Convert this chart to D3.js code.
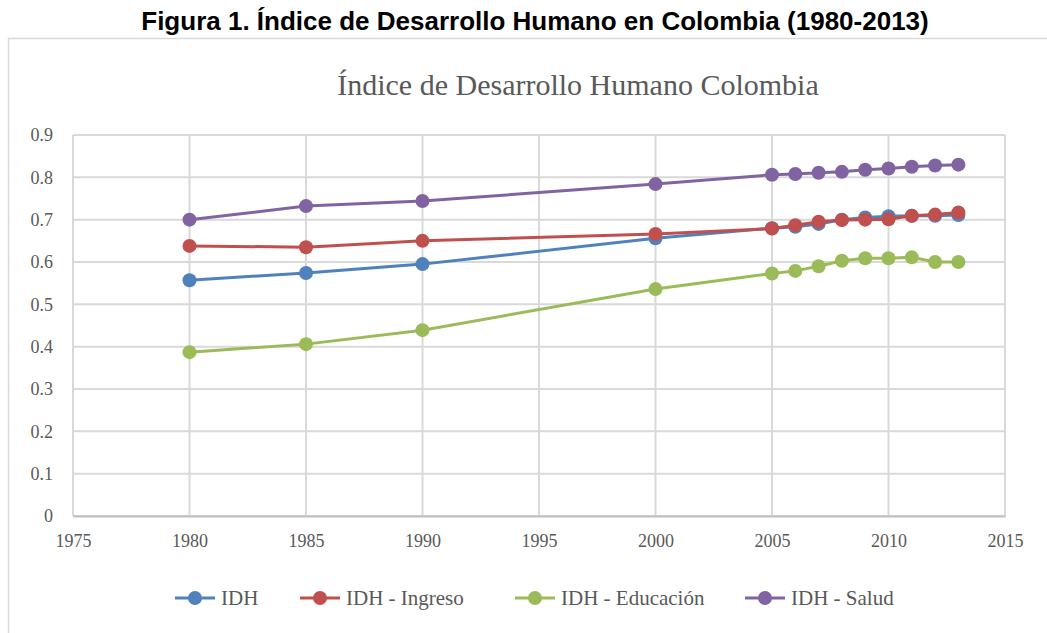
<!DOCTYPE html>
<html>
<head>
<meta charset="utf-8">
<script src="https://cdn.jsdelivr.net/npm/d3@7"></script>
<style>
  body { margin: 0; background: #fff; }
  svg text { font-family: 'Liberation Serif', serif; }
</style>
</head>
<body>
<div class="chart"></div>
<script>
// Data
const years = [1980, 1985, 1990, 2000, 2005, 2006, 2007, 2008, 2009, 2010, 2011, 2012, 2013];
const idh = [0.557, 0.574, 0.595, 0.656, 0.680, 0.683, 0.690, 0.700, 0.705, 0.708, 0.709, 0.709, 0.711];
const idhIngreso = [0.638, 0.635, 0.650, 0.666, 0.679, 0.687, 0.695, 0.699, 0.700, 0.701, 0.709, 0.712, 0.717];
const idhEducacion = [0.387, 0.406, 0.439, 0.536, 0.573, 0.579, 0.590, 0.603, 0.609, 0.609, 0.611, 0.600, 0.600];
const idhSalud = [0.700, 0.732, 0.744, 0.784, 0.806, 0.808, 0.811, 0.813, 0.818, 0.821, 0.825, 0.828, 0.830];
const seriesNames = ['IDH', 'IDH - Ingreso', 'IDH - Educación', 'IDH - Salud'];
const seriesColors = ['#4f81bd', '#c0504d', '#9bbb59', '#8064a2'];
const yTicks = [0, 0.1, 0.2, 0.3, 0.4, 0.5, 0.6, 0.7, 0.8, 0.9];
const xTicks = [1975, 1980, 1985, 1990, 1995, 2000, 2005, 2010, 2015];

const series = [idh, idhIngreso, idhEducacion, idhSalud];

const w = 1047;
const h = 633;

const svg = d3.select('.chart').append('svg').attr('width', w).attr('height', h);

// Figure caption
svg.append('text')
  .attr('x', 535)
  .attr('y', 30)
  .attr('text-anchor', 'middle')
  .style('font-family', "'Liberation Sans', Arial, sans-serif")
  .style('font-weight', 'bold')
  .style('font-size', '26px')
  .style('fill', '#000')
  .text('Figura 1. Índice de Desarrollo Humano en Colombia (1980-2013)');

// Chart frame
svg.append('rect')
  .attr('x', 8.5).attr('y', 38.5)
  .attr('width', 1060).attr('height', 620)
  .attr('fill', 'none')
  .attr('stroke', '#d9d9d9')
  .attr('stroke-width', 1.5);

// Chart title
svg.append('text')
  .attr('x', 578)
  .attr('y', 95)
  .attr('text-anchor', 'middle')
  .style('font-size', '30px')
  .style('fill', '#595959')
  .text('Índice de Desarrollo Humano Colombia');

const xScale = d3.scaleLinear().domain([1975, 2015]).range([73, 1005]);
const yScale = d3.scaleLinear().domain([0, 0.9]).range([516, 135]);

// Gridlines
const grid = svg.append('g').attr('class', 'grid');
grid.selectAll('.hgrid')
  .data(yTicks)
  .enter()
  .append('line')
  .attr('x1', xScale(1975)).attr('x2', xScale(2015))
  .attr('y1', (d) => yScale(d)).attr('y2', (d) => yScale(d))
  .attr('stroke', '#d9d9d9')
  .attr('stroke-width', 2);
grid.selectAll('.vgrid')
  .data(xTicks)
  .enter()
  .append('line')
  .attr('x1', (d) => xScale(d)).attr('x2', (d) => xScale(d))
  .attr('y1', yScale(0)).attr('y2', yScale(0.9))
  .attr('stroke', '#d9d9d9')
  .attr('stroke-width', 2);

// Axes
const xAxis = d3.axisBottom(xScale).tickValues(xTicks).tickFormat(d3.format('d')).tickSize(0).tickPadding(18);
const yAxis = d3.axisLeft(yScale).tickValues(yTicks).tickFormat((d) => (d === 0 ? '0' : d3.format('.1f')(d))).tickSize(0).tickPadding(20);

const xAxisG = svg.append('g').attr('transform', `translate(0, ${yScale(0)})`).call(xAxis);
const yAxisG = svg.append('g').attr('transform', `translate(${xScale(1975)}, 0)`).call(yAxis);

xAxisG.select('.domain').attr('stroke', '#bfbfbf').attr('stroke-width', 2);
yAxisG.select('.domain').remove();
[xAxisG, yAxisG].forEach((g) => {
  g.selectAll('.tick text')
    .style('font-family', "'Liberation Serif', serif")
    .style('font-size', '18px')
    .style('fill', '#595959');
});

// Lines and markers
const line = d3.line()
  .x((d) => xScale(d[0]))
  .y((d) => yScale(d[1]));

series.forEach((vals, i) => {
  const pts = years.map((y, j) => [y, vals[j]]);
  const g = svg.append('g').attr('class', 'series');
  g.append('path')
    .datum(pts)
    .attr('d', line)
    .attr('fill', 'none')
    .attr('stroke', seriesColors[i])
    .attr('stroke-width', 3);
  g.selectAll('circle')
    .data(pts)
    .enter()
    .append('circle')
    .attr('cx', (d) => xScale(d[0]))
    .attr('cy', (d) => yScale(d[1]))
    .attr('r', 7)
    .attr('fill', seriesColors[i]);
});

// Legend
const legendX = [175, 300, 515, 745];
const legend = svg.append('g').attr('id', 'legend');
seriesNames.forEach((name, i) => {
  const lg = legend.append('g').attr('transform', `translate(${legendX[i]}, 598)`);
  lg.append('line')
    .attr('x1', 0).attr('x2', 40)
    .attr('y1', 0).attr('y2', 0)
    .attr('stroke', seriesColors[i])
    .attr('stroke-width', 3);
  lg.append('circle').attr('cx', 20).attr('cy', 0).attr('r', 7).attr('fill', seriesColors[i]);
  lg.append('text')
    .attr('x', 46)
    .attr('y', 7)
    .style('font-size', '21px')
    .style('fill', '#595959')
    .text(name);
});
</script>
</body>
</html>
